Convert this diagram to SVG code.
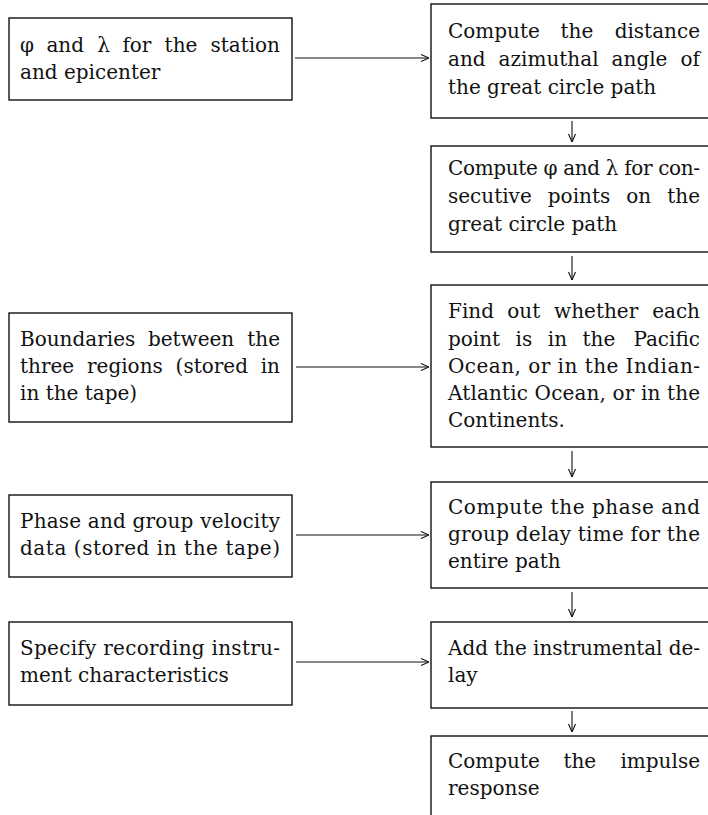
<svg xmlns="http://www.w3.org/2000/svg" width="708" height="815" viewBox="0 0 708 815">
<style>
.box{fill:#fff;stroke:#111;stroke-width:1.4}
.t{font-family:"DejaVu Serif","Liberation Serif",serif;font-size:20px;fill:#111}
.e{text-anchor:end}
.c{fill:none;stroke:#111;stroke-width:1.1}
</style>
<defs>
<marker id="ah" viewBox="0 0 10 10" refX="10" refY="5" markerWidth="10" markerHeight="10" markerUnits="userSpaceOnUse" orient="auto">
<path d="M2,1.5 L10,5 L2,8.5" fill="none" stroke="#111" stroke-width="1.1"/>
</marker>
</defs>
<rect width="708" height="815" fill="#fff"/>

<g id="L1">
<rect class="box" x="9" y="18" width="283" height="82"/>
<text class="t" y="52"><tspan x="20">φ</tspan><tspan x="46.4">and</tspan><tspan x="97.2">λ</tspan><tspan x="122.4">for</tspan><tspan x="164.6">the</tspan><tspan x="280" class="e">station</tspan></text>
<text class="t" x="20" y="79">and epicenter</text>
</g>

<g id="R1">
<rect class="box" x="431" y="4" width="290" height="114"/>
<text class="t" y="38"><tspan x="448">Compute</tspan><tspan x="560.5">the</tspan><tspan x="700" class="e">distance</tspan></text>
<text class="t" y="66"><tspan x="448">and</tspan><tspan x="498.6">azimuthal</tspan><tspan x="611.6">angle</tspan><tspan x="700" class="e">of</tspan></text>
<text class="t" x="448" y="94">the great circle path</text>
</g>

<g id="R2">
<rect class="box" x="431" y="146" width="290" height="106"/>
<text class="t" x="448" y="175" textLength="252" lengthAdjust="spacing">Compute φ and λ for con-</text>
<text class="t" y="203"><tspan x="448">secutive</tspan><tspan x="547.8">points</tspan><tspan x="626.2">on</tspan><tspan x="700" class="e">the</tspan></text>
<text class="t" x="448" y="231">great circle path</text>
</g>

<g id="L2">
<rect class="box" x="9" y="313" width="283" height="109"/>
<text class="t" y="346"><tspan x="20">Boundaries</tspan><tspan x="147.9">between</tspan><tspan x="280" class="e">the</tspan></text>
<text class="t" y="373"><tspan x="20">three</tspan><tspan x="87">regions</tspan><tspan x="175.6">(stored</tspan><tspan x="280" class="e">in</tspan></text>
<text class="t" x="20" y="400">in the tape)</text>
</g>

<g id="R3">
<rect class="box" x="431" y="285" width="290" height="162"/>
<text class="t" y="318"><tspan x="448">Find</tspan><tspan x="507.3">out</tspan><tspan x="554.1">whether</tspan><tspan x="700" class="e">each</tspan></text>
<text class="t" y="346"><tspan x="448">point</tspan><tspan x="515.6">is</tspan><tspan x="547.8">in</tspan><tspan x="582.5">the</tspan><tspan x="700" class="e">Pacific</tspan></text>
<text class="t" x="448" y="373" textLength="252" lengthAdjust="spacing">Ocean, or in the Indian-</text>
<text class="t" x="448" y="400" textLength="252" lengthAdjust="spacing">Atlantic Ocean, or in the</text>
<text class="t" x="448" y="427">Continents.</text>
</g>

<g id="L3">
<rect class="box" x="9" y="495" width="283" height="82"/>
<text class="t" x="20" y="528" textLength="260" lengthAdjust="spacing">Phase and group velocity</text>
<text class="t" x="20" y="555" textLength="260" lengthAdjust="spacing">data (stored in the tape)</text>
</g>

<g id="R4">
<rect class="box" x="431" y="482" width="290" height="106"/>
<text class="t" x="448" y="514" textLength="252" lengthAdjust="spacing">Compute the phase and</text>
<text class="t" x="448" y="541" textLength="252" lengthAdjust="spacing">group delay time for the</text>
<text class="t" x="448" y="568">entire path</text>
</g>

<g id="L4">
<rect class="box" x="9" y="622" width="283" height="83"/>
<text class="t" x="20" y="655" textLength="260" lengthAdjust="spacing">Specify recording instru-</text>
<text class="t" x="20" y="682">ment characteristics</text>
</g>

<g id="R5">
<rect class="box" x="431" y="622" width="290" height="86"/>
<text class="t" x="448" y="655" textLength="252" lengthAdjust="spacing">Add the instrumental de-</text>
<text class="t" x="448" y="682">lay</text>
</g>

<g id="R6">
<rect class="box" x="431" y="736" width="290" height="100"/>
<text class="t" y="768"><tspan x="448">Compute</tspan><tspan x="563.4">the</tspan><tspan x="700" class="e">impulse</tspan></text>
<text class="t" x="448" y="795">response</text>
</g>

<g id="connectors">
<line class="c" x1="295" y1="58" x2="429" y2="58" marker-end="url(#ah)"/>
<line class="c" x1="296" y1="367" x2="429" y2="367" marker-end="url(#ah)"/>
<line class="c" x1="296" y1="535" x2="429" y2="535" marker-end="url(#ah)"/>
<line class="c" x1="296" y1="662" x2="429" y2="662" marker-end="url(#ah)"/>
<line class="c" x1="572" y1="121" x2="572" y2="142" marker-end="url(#ah)"/>
<line class="c" x1="572" y1="256" x2="572" y2="280" marker-end="url(#ah)"/>
<line class="c" x1="572" y1="451" x2="572" y2="477" marker-end="url(#ah)"/>
<line class="c" x1="572" y1="592" x2="572" y2="617" marker-end="url(#ah)"/>
<line class="c" x1="572" y1="711" x2="572" y2="732" marker-end="url(#ah)"/>
</g>
</svg>
